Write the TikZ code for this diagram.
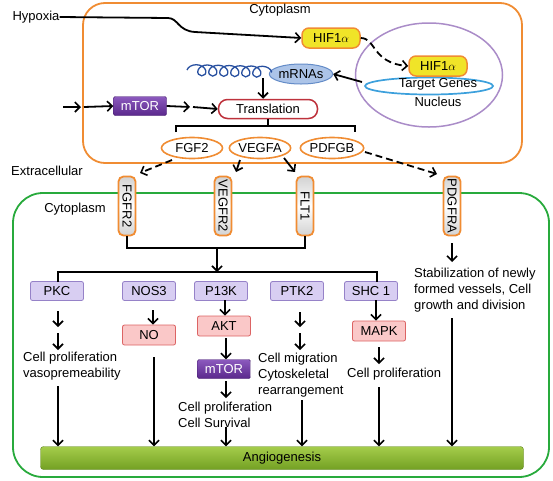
\documentclass[tikz,border=0pt]{standalone}
\usepackage{fontspec}
\setmainfont{Liberation Sans}
\usetikzlibrary{arrows.meta,decorations.pathmorphing,shapes.geometric,calc}
\definecolor{orng}{RGB}{240,140,50}
\definecolor{grn}{RGB}{40,170,60}
\definecolor{hifyel}{RGB}{240,228,40}
\definecolor{mtortop}{RGB}{140,90,190}
\definecolor{mtorbot}{RGB}{90,40,140}
\definecolor{mtorline}{RGB}{70,30,110}
\definecolor{lpurp}{RGB}{216,206,242}
\definecolor{lpurpline}{RGB}{150,130,200}
\definecolor{lpink}{RGB}{250,200,200}
\definecolor{pinkline}{RGB}{220,100,100}
\definecolor{transred}{RGB}{190,50,60}
\definecolor{nucpurp}{RGB}{170,140,200}
\definecolor{genblue}{RGB}{60,160,220}
\definecolor{mrnafill}{RGB}{172,196,232}
\definecolor{mrnaline}{RGB}{100,140,200}
\definecolor{coilblue}{RGB}{40,80,160}
\definecolor{angtop}{RGB}{165,205,75}
\definecolor{angbot}{RGB}{115,160,35}
\begin{document}
\begin{tikzpicture}[x=1pt,y=-1pt,
  font=\fontsize{13}{16}\selectfont,
  arr/.style={-{Straight Barb[length=5pt,width=10pt,line width=1.6pt]}, line width=1.8pt},
  darr/.style={arr, dash pattern=on 7pt off 4pt},
  plain/.style={line width=1.5pt},
  pbox/.style={draw=lpurpline, fill=lpurp, rounded corners=2pt, minimum width=53pt, minimum height=19pt, inner sep=0pt, line width=0.8pt},
  pkbox/.style={draw=pinkline, fill=lpink, rounded corners=2pt, minimum width=53pt, minimum height=20pt, inner sep=0pt, line width=0.8pt},
  mtorbox/.style={draw=mtorline, top color=mtortop, bottom color=mtorbot, rounded corners=1.5pt, minimum width=53pt, minimum height=19pt, inner sep=0pt, text=white},
  hifbox/.style={draw=orng, fill=hifyel, line width=1.5pt, rounded corners=7pt, minimum width=58pt, minimum height=20pt, inner sep=0pt},
  lig/.style={ellipse, draw=orng, line width=1.6pt, minimum width=61pt, minimum height=21pt, inner sep=0pt, fill=white},
  receptor/.style={draw=orng, line width=1.8pt, rounded corners=5pt, minimum width=59pt, minimum height=17pt, inner sep=0pt, rotate=-90, top color=gray!35, bottom color=gray!35, middle color=white},
  txt/.style={align=left, inner sep=0pt}
]
\useasboundingbox (0,0) rectangle (553,480);

% compartments
\draw[orng, line width=1.8pt, rounded corners=22pt] (83,3) rectangle (522,163);
\draw[grn, line width=1.8pt, rounded corners=30pt] (13,193) rectangle (549,477);

\node (cyto1) at (280,10) {Cytoplasm};
\node (cyto2) at (75,209) {Cytoplasm};
\node (extra) at (47,171) {Extracellular};

% nucleus
\node[ellipse, draw=nucpurp, line width=1.5pt, minimum width=147pt, minimum height=104pt] (nuc) at (429,75) {};
\node[ellipse, draw=genblue, line width=1.7pt, minimum width=128pt, minimum height=17pt, inner sep=0pt] (genes) at (429,86) {};
\node[inner sep=0pt] (genestxt) at (438,84) {Target Genes};
\node (nuctxt) at (438,102) {Nucleus};
\node[hifbox] (hif2) at (438,66) {HIF1$\alpha$};

% HIF / hypoxia
\node[inner sep=0pt] (hyp) at (36,17) {Hypoxia};
\node[hifbox] (hif1) at (331,38) {HIF1$\alpha$};
\draw[arr] (hyp.east) -- (168,18) .. controls (178,18) and (178,31) .. (195,32) -- (hif1.west);
\draw[darr] (hif1.east) .. controls (376,38) and (372,63) .. (hif2.west);

% mRNA
\node[ellipse, draw=mrnaline, fill=mrnafill, line width=1pt, minimum width=60pt, minimum height=20pt, inner sep=0pt] (mrna) at (301,74) {mRNAs};
\coordinate (coilstart) at (187,70);
\coordinate (coilend) at (272,72);
\draw[coilblue, line width=1.3pt, decorate, decoration={coil, aspect=1.2, amplitude=5.5pt, segment length=11pt}] (coilstart) -- (coilend);
\coordinate (gw) at (362,82);
\draw[arr] (gw) -- (mrna.east);

% translation
\node[draw=transred, fill=white, line width=1.5pt, rounded corners=9pt, minimum width=99pt, minimum height=19pt, inner sep=0pt] (trans) at (268,109) {Translation};
\coordinate (dn) at (263,78);
\draw[arr] (dn) -- (dn |- trans.north);

\node[mtorbox] (mtor1) at (140,106) {mTOR};
\coordinate (a0) at (63,107);
\coordinate (a1) at (84,107);
\draw[arr] (a0) -- (81,107);
\draw[arr] (a1) -- (mtor1.west);
\coordinate (b1) at (193,107);
\draw[arr] (mtor1.east) -- (190,107);
\draw[arr] (b1) -- (trans.west);

% ligands
\node[lig] (fgf2) at (192,148) {FGF2};
\node[lig] (vegfa) at (260,148) {VEGFA};
\node[lig] (pdfgb) at (332,148) {PDFGB};
\coordinate (brl) at (176,132);
\coordinate (brr) at (355,132);
\draw[plain] (brl) -- (176,126) -- (355,126) -- (brr);
\draw[plain] (trans.south) -- (268,126);

% receptors
\node[receptor] (fgfr2) at (127,206) {FGFR2};
\node[receptor] (vegfr2) at (223,206) {VEGFR2};
\node[receptor] (flt1) at (305,206) {FLT1};
\node[receptor] (pdgfra) at (452,206) {PDGFRA};

\coordinate (l1) at (172,160);
\coordinate (l2) at (240,160);
\coordinate (l3) at (284,158);
\coordinate (l4) at (365,152);
\draw[darr] (l1) -- (140,173);
\draw[arr] (l2) -- (236,172);
\draw[arr] (l3) -- (295,172);
\draw[darr] (l4) -- (437,174);

\coordinate (join) at (217,248);
\coordinate (split) at (217,272);
\draw[plain] (fgfr2.east) -- (fgfr2.east |- join) -- (flt1.east |- join) -- (flt1.east);
\draw[arr] (join) -- (split);

% second level
\node[pbox] (pkc) at (57,291) {PKC};
\node[pbox] (nos3) at (149,291) {NOS3};
\node[pbox] (p13k) at (221,291) {P13K};
\node[pbox] (ptk2) at (297,291) {PTK2};
\node[pbox] (shc) at (371,291) {SHC 1};
\coordinate (sl) at (58,282);
\coordinate (sr) at (377,282);
\draw[plain] (sl) -- (sl |- split) -- (sr |- split) -- (sr);

\node[pkbox] (no) at (149,335) {NO};
\node[pkbox] (akt) at (224,326) {AKT};
\node[mtorbox] (mtor2) at (224,369) {mTOR};
\node[pkbox] (mapk) at (379,331) {MAPK};

\node[txt, anchor=west] (t1) at (23,366) {Cell proliferation\\vasopremeability};
\node[txt, anchor=west] (t2) at (178,415) {Cell proliferation\\Cell Survival};
\node[txt, anchor=west] (t3) at (258,375) {Cell migration\\Cytoskeletal\\rearrangement};
\node[txt, anchor=west] (t4) at (347,374) {Cell proliferation};
\node[txt, anchor=west] (t5) at (414,290) {Stabilization of newly\\formed vessels, Cell\\growth and division};

\node[draw=angbot!80!black, top color=angtop, bottom color=angbot, rounded corners=3pt, minimum width=483pt, minimum height=23pt, inner sep=0pt] (angio) at (282,458) {Angiogenesis};

% PKC column
\coordinate (k1) at (58,311);
\coordinate (k2) at (58,333);
\coordinate (k3) at (58,386);
\draw[arr] (k1) -- (58,327);
\draw[arr] (k2) -- (58,350);
\draw[arr] (k3) -- (k3 |- angio.north);
% NOS3 column
\coordinate (n1) at (153,310);
\coordinate (n2) at (154,357);
\draw[arr] (n1) -- (n1 |- no.north);
\draw[arr] (n2) -- (n2 |- angio.north);
% P13K column
\coordinate (p1) at (225,300);
\coordinate (p2) at (226,338);
\coordinate (p3) at (226,381);
\coordinate (p4) at (226,427);
\draw[arr] (p1) -- (p1 |- akt.north);
\draw[arr] (p2) -- (p2 |- mtor2.north);
\draw[arr] (p3) -- (226,398);
\draw[arr] (p4) -- (p4 |- angio.north);
% PTK2 column
\coordinate (q1) at (300,312);
\coordinate (q2) at (300,333);
\coordinate (q3) at (302,400);
\draw[arr] (q1) -- (300,327);
\draw[arr] (q2) -- (300,350);
\draw[arr] (q3) -- (q3 |- angio.north);
% SHC column
\coordinate (s1) at (376,300);
\coordinate (s2) at (379,347);
\coordinate (s3) at (379,387);
\draw[arr] (s1) -- (s1 |- mapk.north);
\draw[arr] (s2) -- (379,364);
\draw[arr] (s3) -- (s3 |- angio.north);
% PDGFRA column
\coordinate (r1) at (452,243);
\coordinate (r2) at (452,318);
\draw[arr] (r1) -- (452,262);
\draw[arr] (r2) -- (r2 |- angio.north);
\end{tikzpicture}
\end{document}
